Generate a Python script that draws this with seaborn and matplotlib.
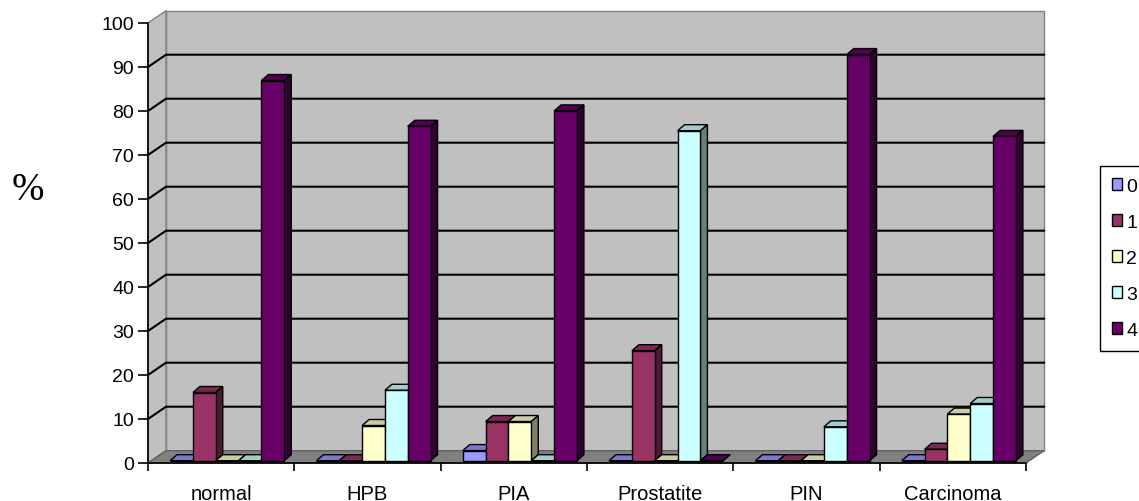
import numpy as np
import pandas as pd
import matplotlib
matplotlib.use('Agg')
import matplotlib.pyplot as plt
import seaborn as sns
from matplotlib.patches import Polygon, Patch
from matplotlib.transforms import offset_copy

plt.rcParams['font.family'] = ['Liberation Sans', 'DejaVu Sans']

categories = ['normal', 'HPB', 'PIA', 'Prostatite', 'PIN', 'Carcinoma']
grades = ['0', '1', '2', '3', '4']
grade0 = [0, 0, 2.3, 0, 0, 0]
grade1 = [15.5, 0, 8.9, 25, 0, 2.6]
grade2 = [0, 8, 8.9, 0, 0, 10.6]
grade3 = [0, 16, 0, 75, 7.7, 13]
grade4 = [86.4, 76, 79.5, 0, 92.3, 73.7]
colors = ['#9999FF', '#993366', '#FFFFCC', '#CCFFFF', '#660066']
yticks = list(range(0, 101, 10))

rows = []
for g, vals in zip(grades, [grade0, grade1, grade2, grade3, grade4]):
    for c, v in zip(categories, vals):
        rows.append({'cat': c, 'grade': g, 'val': v})
df = pd.DataFrame(rows)

W, H = 1139, 502
fig = plt.figure(figsize=(W / 100, H / 100), dpi=100)
ax = fig.add_axes([148 / W, 38 / H, 878 / W, 440 / H])
ax.set_facecolor('none')

sns.barplot(data=df, x='cat', y='val', hue='grade', order=categories,
            hue_order=grades, palette=colors, width=0.78, saturation=1,
            edgecolor='black', linewidth=1, errorbar=None, legend=False, ax=ax)
bars = list(ax.patches)

ax.set_xlim(-0.5, len(categories) - 0.5)
ax.set_ylim(0, 100)

# pixel -> data scale, for the fake 3d depth
p = ax.transData.transform([(0, 0), (1, 1)])
sx, sy = p[1] - p[0]
bx, by = 18 / sx, 12.3 / sy      # back wall depth
dx, dy = 7 / sx, 6 / sy          # bar depth

x0w, x1w = -0.5, len(categories) - 0.5
wall = '#C0C0C0'
edge = '#808080'
ax.add_patch(Polygon([(x0w + bx, by), (x1w + bx, by), (x1w + bx, 100 + by), (x0w + bx, 100 + by)],
                     closed=True, facecolor=wall, edgecolor=edge, lw=1, zorder=0.5, clip_on=False))
ax.add_patch(Polygon([(x0w, 0), (x0w + bx, by), (x0w + bx, 100 + by), (x0w, 100)],
                     closed=True, facecolor=wall, edgecolor=edge, lw=1, zorder=0.5, clip_on=False))
ax.add_patch(Polygon([(x0w, 0), (x1w, 0), (x1w + bx, by), (x0w + bx, by)],
                     closed=True, facecolor='#808080', edgecolor='#606060', lw=1, zorder=0.6, clip_on=False))
for v in yticks[1:-1]:
    ax.plot([x0w, x0w + bx, x1w + bx], [v, v + by, v + by], color='black', lw=1.5,
            zorder=0.7, clip_on=False)


def shade(c, f):
    return tuple(np.array(c[:3]) * f)


bar_tr = offset_copy(ax.transData, fig=fig, x=6, y=2.3, units='dots')
order = np.argsort([b.get_x() for b in bars])
for rank, i in enumerate(order):
    b = bars[i]
    x0, w, h = b.get_x(), b.get_width(), b.get_height()
    x1 = x0 + w
    fc = b.get_facecolor()
    z = 3 + rank * 0.1
    b.set_transform(bar_tr)
    b.set_zorder(z + 0.05)
    b.set_clip_on(False)
    ax.add_patch(Polygon([(x0, h), (x1, h), (x1 + dx, h + dy), (x0 + dx, h + dy)], closed=True,
                         facecolor=shade(fc, 0.8), edgecolor='black', lw=1, transform=bar_tr,
                         zorder=z, clip_on=False))
    if h > 0:
        ax.add_patch(Polygon([(x1, 0), (x1 + dx, dy), (x1 + dx, h + dy), (x1, h)], closed=True,
                             facecolor=shade(fc, 0.5), edgecolor='black', lw=1, transform=bar_tr,
                             zorder=z, clip_on=False))

for s in ['top', 'right']:
    ax.spines[s].set_visible(False)
for s in ['left', 'bottom']:
    ax.spines[s].set_color('black')
    ax.spines[s].set_linewidth(1.2)
    ax.spines[s].set_zorder(2)

ax.set_yticks(yticks)
ax.tick_params(axis='y', length=7, width=1.2, pad=3, labelsize=14, colors='black')
ax.set_xticks(range(len(categories)))
ax.set_xticklabels(categories)
ax.set_xticks(np.arange(-0.5, len(categories)), minor=True)
ax.tick_params(axis='x', which='major', length=0, pad=15, labelsize=14.5, colors='black')
ax.tick_params(axis='x', which='minor', length=6, width=1.2)
ax.set_xlabel('')
ax.set_ylabel('')

fig.text(27.5 / W, 1 - 191 / H, '%', fontsize=28, family='Liberation Serif',
         ha='center', va='center')

handles = [Patch(facecolor=c, edgecolor='black', lw=1, label=g) for g, c in zip(grades, colors)]
leg = fig.legend(handles=handles, loc='upper left', bbox_to_anchor=(1100 / W, 1 - 167 / H),
                 frameon=True, fancybox=False, edgecolor='black', framealpha=1,
                 fontsize=14, handlelength=0.55, handleheight=0.55, handletextpad=0.2,
                 labelspacing=0.98, borderpad=0.6, borderaxespad=0)
leg.get_frame().set_linewidth(1)

fig.savefig('out.png', dpi=100)
